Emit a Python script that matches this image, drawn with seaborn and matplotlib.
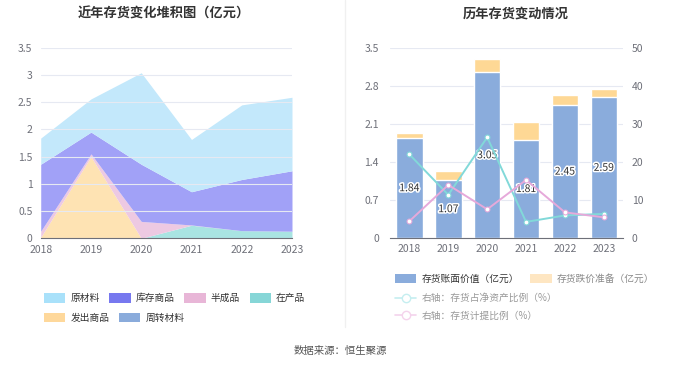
import numpy as np
import pandas as pd
import matplotlib
matplotlib.use("Agg")
import matplotlib.pyplot as plt
import matplotlib.patheffects as pe
from matplotlib.patches import Patch
from matplotlib.lines import Line2D
import seaborn as sns

sns.set_theme(style="white")
plt.rcParams['font.family'] = ['Noto Sans CJK SC', 'DejaVu Sans']

# data
years = ["2018", "2019", "2020", "2021", "2022", "2023"]

# left: stacked inventory composition (亿元)
zhouzhuan = [0, 0, 0, 0, 0, 0]                      # 周转材料
fachu = [0.02, 1.50, 0, 0, 0, 0]                    # 发出商品
zaichan = [0, 0, 0, 0.24, 0.14, 0.13]               # 在产品
banchengpin = [0.11, 0.05, 0.31, 0.005, 0, 0]       # 半成品
kucun = [1.23, 0.40, 1.05, 0.61, 0.94, 1.11]        # 库存商品
yuancailiao = [0.48, 0.61, 1.68, 0.96, 1.37, 1.35]  # 原材料

# right: book value, provision, ratios
book_value = [1.84, 1.07, 3.05, 1.81, 2.45, 2.59]
provision = [0.09, 0.17, 0.24, 0.32, 0.18, 0.15]
net_asset_ratio = [22.0, 11.4, 26.5, 4.3, 6.0, 6.4]
provision_ratio = [4.5, 14.0, 7.6, 15.3, 6.8, 5.5]

grid_c = "#e6e9f2"
tick_c = "#6e7079"

fig = plt.figure(figsize=(6.8, 3.67), dpi=100)

# ---------- left chart ----------
ax1 = fig.add_axes([0.0599, 0.3507, 0.3695, 0.5193])
xs = np.arange(len(years))
layers = [zhouzhuan, fachu, zaichan, banchengpin, kucun, yuancailiao]
fill_colors = ["#b5cbe9", "#fee3b3", "#a9e4e2", "#edc9e2", "#a1a1f7", "#c3e8fb"]
ax1.stackplot(xs, *layers, colors=fill_colors, linewidth=0)
ax1.set_xlim(0, 5)
ax1.set_ylim(0, 3.5)
ax1.set_xticks(xs)
ax1.set_xticklabels(years)
ax1.set_yticks([0, 0.5, 1, 1.5, 2, 2.5, 3, 3.5])
ax1.set_yticklabels(["0", "0.5", "1", "1.5", "2", "2.5", "3", "3.5"])
ax1.yaxis.grid(True, color=grid_c, linewidth=0.8)
ax1.set_axisbelow(False)
for s in ["top", "right", "left"]:
    ax1.spines[s].set_visible(False)
ax1.spines["bottom"].set_color("#6e7079")
ax1.spines["bottom"].set_linewidth(0.8)
ax1.tick_params(axis="x", length=4, color="#6e7079", labelsize=7.5, labelcolor=tick_c, pad=1)
ax1.tick_params(axis="y", length=0, labelsize=7.5, labelcolor=tick_c, pad=6)
ax1.set_title("近年存货变化堆积图（亿元）", fontsize=9.5, fontweight="bold", color="#333333",
              x=0.49, y=1.0, pad=22)

# left legend, two rows
leg_row1 = [("原材料", "#a9e1fa"), ("库存商品", "#7778ef"), ("半成品", "#e8b6d7"), ("在产品", "#86d6d7")]
leg_row2 = [("发出商品", "#fed89b"), ("周转材料", "#8aabdb")]
for row, ypos in [(leg_row1, 0.225), (leg_row2, 0.172)]:
    handles = [Patch(facecolor=c, edgecolor="none", label=n) for n, c in row]
    lg = fig.legend(handles=handles, ncol=len(row), loc="upper left", bbox_to_anchor=(0.052, ypos),
                    frameon=False, fontsize=7, handlelength=2.2, handleheight=1.1,
                    columnspacing=1.0, handletextpad=0.5)
    for t in lg.get_texts():
        t.set_color("#333333")

# ---------- right chart ----------
ax2 = fig.add_axes([0.5735, 0.3507, 0.3431, 0.5193])
df = pd.DataFrame({"year": years, "book": book_value,
                   "total": np.array(book_value) + np.array(provision)})
sns.barplot(data=df, x="year", y="total", color="#fed895", saturation=1, width=0.68, ax=ax2)
sns.barplot(data=df, x="year", y="book", color="#8aacdc", saturation=1, width=0.68, ax=ax2)
ax2.set_ylim(0, 3.5)
ax2.set_xlim(-0.5, 5.5)
ax2.set_yticks([0, 0.7, 1.4, 2.1, 2.8, 3.5])
ax2.set_yticklabels(["0", "0.7", "1.4", "2.1", "2.8", "3.5"])
ax2.set_xlabel("")
ax2.set_ylabel("")
ax2.yaxis.grid(True, color=grid_c, linewidth=0.8)
ax2.set_axisbelow(True)
for s in ["top", "right", "left"]:
    ax2.spines[s].set_visible(False)
ax2.spines["bottom"].set_color("#6e7079")
ax2.spines["bottom"].set_linewidth(0.8)
ax2.set_xticks(np.arange(-0.5, 6, 1), minor=True)
ax2.tick_params(axis="x", which="major", length=0, labelsize=7.5, labelcolor=tick_c, pad=4)
ax2.tick_params(axis="x", which="minor", length=4, color="#6e7079")
ax2.tick_params(axis="y", length=0, labelsize=7.5, labelcolor=tick_c, pad=8)

for i, v in enumerate(book_value):
    ax2.text(i, v / 2, f"{v:.2f}", ha="center", va="center", fontsize=7.5, color="#333333",
             path_effects=[pe.withStroke(linewidth=2.2, foreground="white")], zorder=6)

ax3 = ax2.twinx()
ax3.set_ylim(0, 50)
ax3.set_yticks([0, 10, 20, 30, 40, 50])
sns.lineplot(x=xs, y=net_asset_ratio, color="#82d9d9", linewidth=1.4, marker="o",
             markersize=3.5, markerfacecolor="white", markeredgecolor="#82d9d9", ax=ax3)
sns.lineplot(x=xs, y=provision_ratio, color="#e6a9da", linewidth=1.4, marker="o",
             markersize=3.5, markerfacecolor="white", markeredgecolor="#e6a9da", ax=ax3)
for s in ["top", "right", "left", "bottom"]:
    ax3.spines[s].set_visible(False)
ax3.tick_params(axis="y", length=0, labelsize=7.5, labelcolor=tick_c, pad=6)
ax3.set_title("历年存货变动情况", fontsize=9.5, fontweight="bold", color="#333333",
              x=0.54, y=1.0, pad=22)

# right legend
h_bar = [Patch(facecolor="#8aacdc", edgecolor="none", label="存货账面价值（亿元）"),
         Patch(facecolor="#fee6c2", edgecolor="none", label="存货跌价准备（亿元）")]
leg2 = fig.legend(handles=h_bar, ncol=2, loc="upper left", bbox_to_anchor=(0.568, 0.278),
                  frameon=False, fontsize=7, handlelength=2.2, handleheight=1.1,
                  columnspacing=1.2, handletextpad=0.5)
leg2.get_texts()[0].set_color("#333333")
leg2.get_texts()[1].set_color("#888888")
h_line = [Line2D([0], [0], color="#c5eef0", marker="o", markersize=6, markerfacecolor="white",
                 markeredgecolor="#c5eef0", linewidth=1.2, label="右轴：存货占净资产比例（%）"),
          Line2D([0], [0], color="#f4d3ec", marker="o", markersize=6, markerfacecolor="white",
                 markeredgecolor="#f4d3ec", linewidth=1.2, label="右轴：存货计提比例（%）")]
leg3 = fig.legend(handles=h_line, ncol=1, loc="upper left", bbox_to_anchor=(0.568, 0.225),
                  frameon=False, fontsize=7, handlelength=2.2, handletextpad=0.5,
                  labelspacing=0.75)
for t in leg3.get_texts():
    t.set_color("#999999")

# divider and footer
fig.add_artist(Line2D([0.507, 0.507], [0.11, 1.0], color="#f0f0f0", linewidth=1))
fig.text(0.5, 0.043, "数据来源：恒生聚源", ha="center", va="center", fontsize=7.5, color="#555555")

fig.savefig("out.png", dpi=100, facecolor="white")
